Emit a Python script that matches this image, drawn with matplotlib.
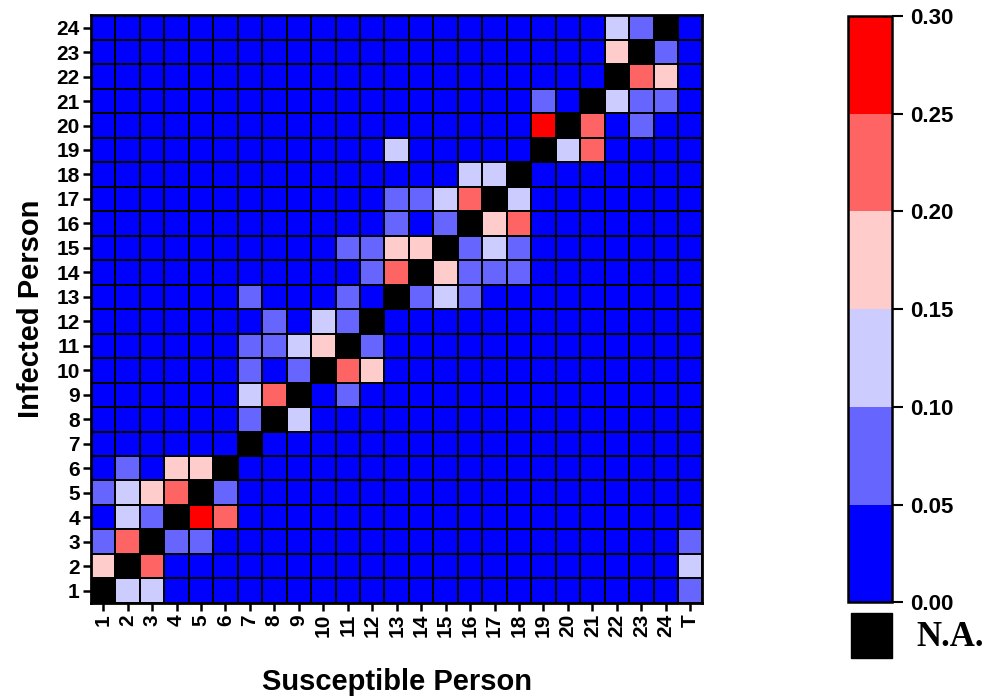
import numpy as np
import matplotlib
matplotlib.use("Agg")
import matplotlib.pyplot as plt
from matplotlib.colors import ListedColormap, BoundaryNorm
from matplotlib.patches import Rectangle

NA = np.nan

# transmission probability: rows = infected person 1..24, columns = susceptible person 1..24 and T
susceptible = [str(i) for i in range(1, 25)] + ["T"]
infected = [str(i) for i in range(1, 25)]

rates = np.array([
    # 1    2    3    4    5    6    7    8    9    10   11   12   13   14   15   16   17   18   19   20   21   22   23   24   T
    [NA,  .12, .12, .02, .02, .02, .02, .02, .02, .02, .02, .02, .02, .02, .02, .02, .02, .02, .02, .02, .02, .02, .02, .02, .07],  # 1
    [.17, NA,  .22, .02, .02, .02, .02, .02, .02, .02, .02, .02, .02, .02, .02, .02, .02, .02, .02, .02, .02, .02, .02, .02, .12],  # 2
    [.07, .22, NA,  .07, .07, .02, .02, .02, .02, .02, .02, .02, .02, .02, .02, .02, .02, .02, .02, .02, .02, .02, .02, .02, .07],  # 3
    [.02, .12, .07, NA,  .27, .22, .02, .02, .02, .02, .02, .02, .02, .02, .02, .02, .02, .02, .02, .02, .02, .02, .02, .02, .02],  # 4
    [.07, .12, .17, .22, NA,  .07, .02, .02, .02, .02, .02, .02, .02, .02, .02, .02, .02, .02, .02, .02, .02, .02, .02, .02, .02],  # 5
    [.02, .07, .02, .17, .17, NA,  .02, .02, .02, .02, .02, .02, .02, .02, .02, .02, .02, .02, .02, .02, .02, .02, .02, .02, .02],  # 6
    [.02, .02, .02, .02, .02, .02, NA,  .02, .02, .02, .02, .02, .02, .02, .02, .02, .02, .02, .02, .02, .02, .02, .02, .02, .02],  # 7
    [.02, .02, .02, .02, .02, .02, .07, NA,  .12, .02, .02, .02, .02, .02, .02, .02, .02, .02, .02, .02, .02, .02, .02, .02, .02],  # 8
    [.02, .02, .02, .02, .02, .02, .12, .22, NA,  .02, .07, .02, .02, .02, .02, .02, .02, .02, .02, .02, .02, .02, .02, .02, .02],  # 9
    [.02, .02, .02, .02, .02, .02, .07, .02, .07, NA,  .22, .17, .02, .02, .02, .02, .02, .02, .02, .02, .02, .02, .02, .02, .02],  # 10
    [.02, .02, .02, .02, .02, .02, .07, .07, .12, .17, NA,  .07, .02, .02, .02, .02, .02, .02, .02, .02, .02, .02, .02, .02, .02],  # 11
    [.02, .02, .02, .02, .02, .02, .02, .07, .02, .12, .07, NA,  .02, .02, .02, .02, .02, .02, .02, .02, .02, .02, .02, .02, .02],  # 12
    [.02, .02, .02, .02, .02, .02, .07, .02, .02, .02, .07, .02, NA,  .07, .12, .07, .02, .02, .02, .02, .02, .02, .02, .02, .02],  # 13
    [.02, .02, .02, .02, .02, .02, .02, .02, .02, .02, .02, .07, .22, NA,  .17, .07, .07, .07, .02, .02, .02, .02, .02, .02, .02],  # 14
    [.02, .02, .02, .02, .02, .02, .02, .02, .02, .02, .07, .07, .17, .17, NA,  .07, .12, .07, .02, .02, .02, .02, .02, .02, .02],  # 15
    [.02, .02, .02, .02, .02, .02, .02, .02, .02, .02, .02, .02, .07, .02, .07, NA,  .17, .22, .02, .02, .02, .02, .02, .02, .02],  # 16
    [.02, .02, .02, .02, .02, .02, .02, .02, .02, .02, .02, .02, .07, .07, .12, .22, NA,  .12, .02, .02, .02, .02, .02, .02, .02],  # 17
    [.02, .02, .02, .02, .02, .02, .02, .02, .02, .02, .02, .02, .02, .02, .02, .12, .12, NA,  .02, .02, .02, .02, .02, .02, .02],  # 18
    [.02, .02, .02, .02, .02, .02, .02, .02, .02, .02, .02, .02, .12, .02, .02, .02, .02, .02, NA,  .12, .22, .02, .02, .02, .02],  # 19
    [.02, .02, .02, .02, .02, .02, .02, .02, .02, .02, .02, .02, .02, .02, .02, .02, .02, .02, .27, NA,  .22, .02, .07, .02, .02],  # 20
    [.02, .02, .02, .02, .02, .02, .02, .02, .02, .02, .02, .02, .02, .02, .02, .02, .02, .02, .07, .02, NA,  .12, .07, .07, .02],  # 21
    [.02, .02, .02, .02, .02, .02, .02, .02, .02, .02, .02, .02, .02, .02, .02, .02, .02, .02, .02, .02, .02, NA,  .22, .17, .02],  # 22
    [.02, .02, .02, .02, .02, .02, .02, .02, .02, .02, .02, .02, .02, .02, .02, .02, .02, .02, .02, .02, .02, .17, NA,  .07, .02],  # 23
    [.02, .02, .02, .02, .02, .02, .02, .02, .02, .02, .02, .02, .02, .02, .02, .02, .02, .02, .02, .02, .02, .12, .07, NA,  .02],  # 24
])

levels = [0.0, 0.05, 0.10, 0.15, 0.20, 0.25, 0.30]
level_colors = ["#0000ff", "#6666ff", "#ccccff", "#ffcccc", "#ff6464", "#ff0000"]

plt.rcParams["font.family"] = ["Liberation Sans", "DejaVu Sans"]
plt.rcParams["font.weight"] = "bold"

cmap = ListedColormap(level_colors)
cmap.set_bad("black")
norm = BoundaryNorm(levels, cmap.N)

fig = plt.figure(figsize=(9.88, 6.97), dpi=100)
ax = fig.add_axes([0.092, 0.135, 0.619, 0.843])

xe = np.arange(len(susceptible) + 1) + 0.5
ye = np.arange(len(infected) + 1) + 0.5
mesh = ax.pcolormesh(xe, ye, np.ma.masked_invalid(rates), cmap=cmap, norm=norm,
                     edgecolors="black", linewidth=1.4)
ax.set_xlim(0.5, len(susceptible) + 0.5)
ax.set_ylim(0.5, len(infected) + 0.5)

ax.set_xticks(np.arange(1, len(susceptible) + 1))
ax.set_xticklabels(susceptible, rotation=90, fontsize=15, fontweight="bold")
ax.set_yticks(np.arange(1, len(infected) + 1))
ax.set_yticklabels(infected, fontsize=15, fontweight="bold")
ax.tick_params(direction="out", length=6, width=1.8, pad=2)
for s in ax.spines.values():
    s.set_linewidth(2)

ax.set_xlabel("Susceptible Person", fontsize=21, fontweight="bold", labelpad=22)
ax.set_ylabel("Infected Person", fontsize=21, fontweight="bold", labelpad=8)

# colour scale
cax = fig.add_axes([0.858, 0.136, 0.045, 0.841])
cb = fig.colorbar(mesh, cax=cax, ticks=levels, format="%.2f")
cb.outline.set_linewidth(1.8)
cax.tick_params(direction="out", length=8, width=1.5, labelsize=16, pad=5)
for t in cax.get_yticklabels():
    t.set_fontweight("bold")

# N.A. swatch
fig.patches.append(Rectangle((0.861, 0.056), 0.042, 0.064, transform=fig.transFigure,
                             facecolor="black", edgecolor="black"))
fig.text(0.928, 0.086, "N.A.", fontsize=25, fontweight="bold",
         family=["Liberation Serif", "DejaVu Serif"], va="center", ha="left")

fig.savefig("out.png", dpi=100)
